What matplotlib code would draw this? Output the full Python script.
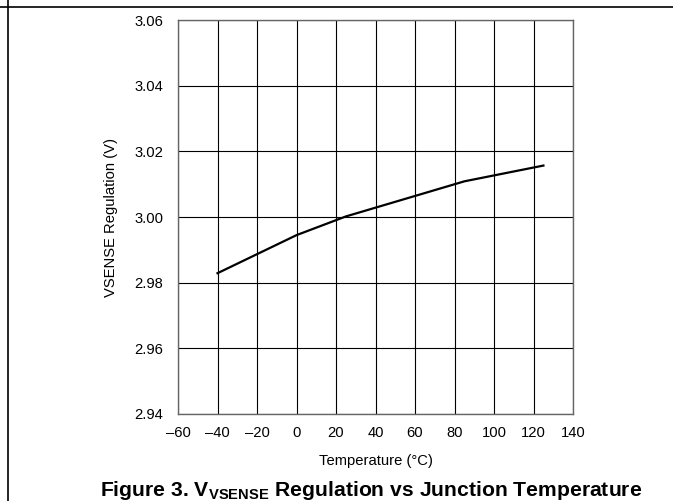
import matplotlib
matplotlib.use("Agg")
import matplotlib.pyplot as plt
from matplotlib.lines import Line2D

plt.rcParams['font.family'] = ['Liberation Sans', 'DejaVu Sans']
plt.rcParams['mathtext.fontset'] = 'custom'
plt.rcParams['mathtext.rm'] = 'Liberation Sans'
plt.rcParams['mathtext.bf'] = 'Liberation Sans:bold'

# data
temp_c = [-40, 0, 25, 85, 125]
vsense_v = [2.9829, 2.9945, 3.0002, 3.0109, 3.0157]

x_ticks = [-60, -40, -20, 0, 20, 40, 60, 80, 100, 120, 140]
x_labels = ['\u201360', '\u201340', '\u201320', '0', '20', '40', '60', '80', '100', '120', '140']
y_ticks = [2.94, 2.96, 2.98, 3.00, 3.02, 3.04, 3.06]
y_labels = ['2.94', '2.96', '2.98', '3.00', '3.02', '3.04', '3.06']

fig = plt.figure(figsize=(6.73, 5.01), dpi=100)
ax = fig.add_axes([0.2645, 0.1737, 0.587, 0.786])

ax.plot(temp_c, vsense_v, color='black', linewidth=1.6, zorder=3)

ax.set_xlim(-60, 140)
ax.set_ylim(2.94, 3.06)
ax.set_xticks(x_ticks)
ax.set_xticklabels(x_labels)
ax.set_yticks(y_ticks)
ax.set_yticklabels(y_labels)
ax.tick_params(length=0, labelsize=10.6, colors='black')
ax.tick_params(axis='y', pad=10.5)
ax.tick_params(axis='x', pad=8.5)
ax.grid(True, color='black', linewidth=0.8)
for s in ax.spines.values():
    s.set_color('#666666')
    s.set_linewidth(1.0)

ax.set_xlabel('Temperature (\u00b0C)', fontsize=10.6, labelpad=10)
ax.set_ylabel('VSENSE Regulation (V)', fontsize=10.6, labelpad=12)

fig.text(0.552, 0.01, r'Figure 3. V$_{\mathbf{VSENSE}}$ Regulation vs Junction Temperature',
         ha='center', va='baseline', fontsize=15.2, fontweight='bold')

# page frame lines
fig.add_artist(Line2D([0, 1], [1 - 7 / 501, 1 - 7 / 501], color='black', linewidth=1.2))
fig.add_artist(Line2D([8 / 673, 8 / 673], [0, 1], color='black', linewidth=1.2))

fig.savefig('out.png', dpi=100)
